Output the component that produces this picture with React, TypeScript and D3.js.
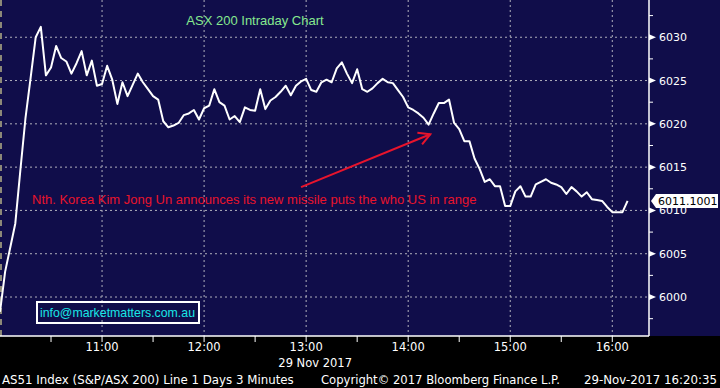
import * as d3 from "d3";

// ---------------------------------------------------------------------------
// Data (3-minute bars, 29 Nov 2017)
// ---------------------------------------------------------------------------

const TITLE = "ASX 200 Intraday Chart";
const NOTE =
  "Nth. Korea Kim Jong Un announces its new missile puts the who US in range";
const EMAIL = "info@marketmatters.com.au";
const DATE_LABEL = "29 Nov 2017";
const FOOTER_LEFT = "AS51 Index (S&P/ASX 200) Line 1 Days 3 Minutes";
const FOOTER_MID = "Copyright\u00a9 2017 Bloomberg Finance L.P.";
const FOOTER_RIGHT = "29-Nov-2017 16:20:35";
const LAST_PRICE = "6011.1001";

const SESSION_START = new Date(2017, 10, 29, 10, 0);
const SESSION_END = new Date(2017, 10, 29, 16, 21);
const STEP_MINUTES = 3;

const PRICES = [
  5998.3, 6002.9, 6005.7, 6008.5, 6014.7, 6020.7, 6025.3, 6030.0, 6031.2, 6025.6,
  6026.5, 6029.0, 6027.6, 6027.2, 6025.8, 6027.0, 6028.4, 6025.6, 6027.3, 6024.4,
  6024.6, 6026.7, 6025.1, 6022.3, 6024.8, 6023.2, 6024.5, 6025.8, 6024.8, 6024.0,
  6023.2, 6022.8, 6020.3, 6019.6, 6019.8, 6020.1, 6021.0, 6021.2, 6021.6, 6020.5,
  6021.8, 6022.1, 6024.0, 6022.5, 6022.1, 6020.5, 6020.9, 6020.2, 6021.9, 6021.6,
  6021.5, 6024.0, 6021.7, 6022.7, 6023.1, 6023.7, 6024.4, 6023.3, 6024.4, 6024.9,
  6025.2, 6023.9, 6023.7, 6024.8, 6025.1, 6024.8, 6026.4, 6027.1, 6025.8, 6024.7,
  6026.3, 6024.0, 6023.7, 6024.1, 6024.7, 6025.2, 6024.8, 6024.7, 6023.9, 6023.1,
  6021.9, 6021.6, 6021.2, 6020.7, 6019.9, 6021.2, 6022.4, 6022.4, 6022.8, 6020.1,
  6019.4, 6018.0, 6018.0, 6016.0, 6014.8, 6013.3, 6013.6, 6012.8, 6012.8, 6010.5,
  6010.5, 6012.2, 6012.8, 6011.6, 6011.6, 6013.0, 6013.3, 6013.6, 6013.2, 6013.0,
  6012.7, 6011.9, 6012.7, 6012.2, 6011.6, 6012.1, 6011.3, 6011.2, 6011.1, 6010.4,
  6009.8, 6009.8, 6009.8, 6011.1,
];

const Y_TICKS = [6000, 6005, 6010, 6015, 6020, 6025, 6030];
const Y_MINOR = [5997.5, 6002.5, 6007.5, 6012.5, 6017.5, 6022.5, 6027.5, 6032.5];
const X_HOURS = ["11:00", "12:00", "13:00", "14:00", "15:00", "16:00"];
const X_HALVES = ["10:30", "11:00", "11:30", "12:00", "12:30", "13:00", "13:30", "14:00", "14:30", "15:00", "15:30", "16:00"];

// annotation arrow, in chart units
const ARROW_FROM = { time: "12:57", value: 6012.7 };
const ARROW_TO = { time: "14:13", value: 6018.8 };

// ---------------------------------------------------------------------------

const W = 720;
const H = 388;
const PLOT_R = 649;
const PLOT_B = 336;

const NAVY = "#100d4a";
const GRID = "#b0b0bc";
const RED = "#e8142c";
const MONO = "'DejaVu Sans', Verdana, sans-serif";
const ARIAL = "'Liberation Sans', Arial, sans-serif";

const atTime = (hhmm: string) => {
  const [h, m] = hhmm.split(":").map(Number);
  return new Date(2017, 10, 29, h, m);
};

export default function App() {
  const x = d3.scaleTime().domain([SESSION_START, SESSION_END]).range([0, 648]);
  const y = d3.scaleLinear().domain([5995.5, 6034.3]).range([PLOT_B, 0]);

  const points = PRICES.map((v, i) => ({
    t: d3.timeMinute.offset(SESSION_START, i * STEP_MINUTES),
    v,
  }));

  const line = d3
    .line<{ t: Date; v: number }>()
    .x((d) => x(d.t))
    .y((d) => y(d.v));

  // arrow geometry
  const ax1 = x(atTime(ARROW_FROM.time));
  const ay1 = y(ARROW_FROM.value);
  const ax2 = x(atTime(ARROW_TO.time));
  const ay2 = y(ARROW_TO.value);
  const ang = Math.atan2(ay2 - ay1, ax2 - ax1);
  const headLen = 13;
  const headSpread = 0.5;
  const h1 = [ax2 - headLen * Math.cos(ang - headSpread), ay2 - headLen * Math.sin(ang - headSpread)];
  const h2 = [ax2 - headLen * Math.cos(ang + headSpread), ay2 - headLen * Math.sin(ang + headSpread)];

  const lastY = y(PRICES[PRICES.length - 1]);

  return (
    <>
      <style>{"body{margin:0;background:#000}"}</style>
      <svg width={W} height={H} style={{ display: "block" }}>
        <rect x={0} y={0} width={W} height={H} fill="#000" />
        <rect x={0} y={0} width={W} height={PLOT_B} fill={NAVY} />

        {/* grid */}
        {Y_TICKS.map((t) => (
          <line key={"gy" + t} x1={0} x2={PLOT_R} y1={y(t)} y2={y(t)}
            stroke={GRID} strokeWidth={1} strokeDasharray="2,3" />
        ))}
        {X_HOURS.map((t) => (
          <line key={"gx" + t} x1={x(atTime(t))} x2={x(atTime(t))} y1={0} y2={PLOT_B}
            stroke={GRID} strokeWidth={1} strokeDasharray="2,3" />
        ))}
        <line x1={1} x2={1} y1={0} y2={PLOT_B} stroke="#8c8878" strokeWidth={2} strokeDasharray="6,5" />

        {/* title + notes */}
        <text x={255} y={25} textAnchor="middle" fill="#86e98f" fontSize={13} fontFamily={ARIAL}>
          {TITLE}
        </text>
        <text x={32} y={204} fill={RED} fontSize={13} fontFamily={ARIAL}>
          {NOTE}
        </text>

        <line x1={ax1} y1={ay1} x2={ax2} y2={ay2} stroke={RED} strokeWidth={2} />
        <polyline points={`${h1[0]},${h1[1]} ${ax2},${ay2} ${h2[0]},${h2[1]}`}
          fill="none" stroke={RED} strokeWidth={2} />

        <rect x={37} y={302} width={162} height={21} fill="none" stroke="#fff" strokeWidth={2} />
        <text x={40} y={317} fill="#19e6e6" fontSize={13} fontFamily={ARIAL}
          textLength={155} lengthAdjust="spacingAndGlyphs">
          {EMAIL}
        </text>

        {/* price line */}
        <path d={line(points) ?? ""} fill="none" stroke="#fff" strokeWidth={2}
          strokeLinejoin="round" />

        {/* right axis */}
        <line x1={PLOT_R} x2={PLOT_R} y1={0} y2={PLOT_B} stroke="#fff" strokeWidth={1.5} />
        {Y_MINOR.map((t) => (
          <line key={"my" + t} x1={PLOT_R} x2={PLOT_R + 4} y1={y(t)} y2={y(t)} stroke="#fff" />
        ))}
        {Y_TICKS.map((t) => (
          <g key={"ty" + t}>
            <path d={`M${PLOT_R},${y(t) - 3}L${PLOT_R + 7},${y(t)}L${PLOT_R},${y(t) + 3}Z`} fill="#fff" />
            <text x={659} y={y(t) + 4} fill="#fff" fontSize={11} fontFamily={MONO}>
              {t}
            </text>
          </g>
        ))}

        {/* last price marker */}
        <path
          d={`M${PLOT_R + 2},${lastY}L${PLOT_R + 7},${lastY - 7}H718V${lastY + 7}H${PLOT_R + 7}Z`}
          fill="#fff"
        />
        <text x={658} y={lastY + 4} fill="#000" fontSize={11} fontFamily={MONO}>
          {LAST_PRICE}
        </text>

        {/* bottom axis */}
        <line x1={0} x2={PLOT_R} y1={PLOT_B} y2={PLOT_B} stroke="#fff" strokeWidth={1.5} />
        {X_HALVES.map((t) => (
          <line key={"tx" + t} x1={x(atTime(t))} x2={x(atTime(t))} y1={PLOT_B} y2={PLOT_B + 6}
            stroke="#fff" />
        ))}
        {X_HOURS.map((t) => (
          <text key={"lx" + t} x={x(atTime(t))} y={350.5} textAnchor="middle" fill="#fff"
            fontSize={11.5} fontFamily={MONO}>
            {t}
          </text>
        ))}
        <text x={x(atTime("13:00")) + 9} y={366.5} textAnchor="middle" fill="#fff"
          fontSize={11.5} fontFamily={MONO}>
          {DATE_LABEL}
        </text>

        {/* footer */}
        <text x={2} y={384} fill="#fff" fontSize={11.8} fontFamily={MONO}>{FOOTER_LEFT}</text>
        <text x={321} y={384} fill="#fff" fontSize={11.8} fontFamily={MONO}
          textLength={239} lengthAdjust="spacingAndGlyphs">{FOOTER_MID}</text>
        <text x={717} y={384} textAnchor="end" fill="#fff" fontSize={11.8} fontFamily={MONO}>
          {FOOTER_RIGHT}
        </text>
      </svg>
    </>
  );
}
